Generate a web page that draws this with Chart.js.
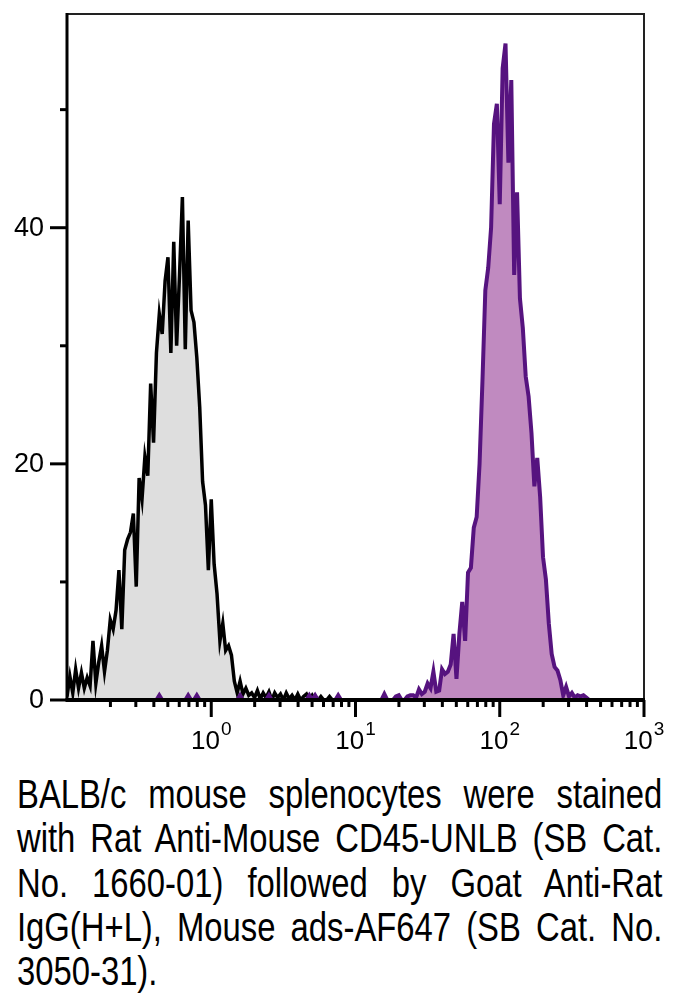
<!DOCTYPE html>
<html>
<head>
<meta charset="utf-8">
<style>
  html, body { margin: 0; padding: 0; background: #fff; }
  #wrap { position: relative; width: 675px; height: 993px; overflow: hidden; }
  #histChart { position: absolute; left: 0; top: 0; }
  #caption {
    position: absolute; left: 17px; top: 772px; width: 787px;
    transform: scaleX(0.82); transform-origin: 0 0;
    font-family: "Liberation Sans", Arial, sans-serif;
    font-size: 40px; line-height: 44.3px; color: #000;
  }
  #caption div { text-align: justify; text-align-last: justify; }
  #caption div.last { text-align-last: left; }
</style>
</head>
<body>
<div id="wrap">
  <canvas id="histChart" width="675" height="760"></canvas>
  <div id="caption">
    <div>BALB/c mouse splenocytes were stained</div>
    <div>with Rat Anti-Mouse CD45-UNLB (SB Cat.</div>
    <div>No. 1660-01) followed by Goat Anti-Rat</div>
    <div>IgG(H+L), Mouse ads-AF647 (SB Cat. No.</div>
    <div class="last">3050-31).</div>
  </div>
</div>
<script src="https://cdn.jsdelivr.net/npm/chart.js"></script>
<script>
// bin centres, in decades (log10 of intensity)
const logBins = [
  -1.00,-0.98,-0.96,-0.94,-0.92,-0.90,-0.88,-0.86,-0.84,-0.82,
  -0.80,-0.78,-0.76,-0.74,-0.72,-0.70,-0.68,-0.66,-0.64,-0.62,
  -0.60,-0.58,-0.56,-0.54,-0.52,-0.50,-0.48,-0.46,-0.44,-0.42,
  -0.40,-0.38,-0.36,-0.34,-0.32,-0.30,-0.28,-0.26,-0.24,-0.22,
  -0.20,-0.18,-0.16,-0.14,-0.12,-0.10,-0.08,-0.06,-0.04,-0.02,
  0.00,0.02,0.04,0.06,0.08,0.10,0.12,0.14,0.16,0.18,
  0.20,0.22,0.24,0.26,0.28,0.30,0.32,0.34,0.36,0.38,
  0.40,0.42,0.44,0.46,0.48,0.50,0.52,0.54,0.56,0.58,
  0.60,0.62,0.64,0.66,0.68,0.70,0.72,0.74,0.76,0.78,
  0.80,0.82,0.84,0.86,0.88,0.90,0.92,0.94,0.96,0.98,
  1.00,1.02,1.04,1.06,1.08,1.10,1.12,1.14,1.16,1.18,
  1.20,1.22,1.24,1.26,1.28,1.30,1.32,1.34,1.36,1.38,
  1.40,1.42,1.44,1.46,1.48,1.50,1.52,1.54,1.56,1.58,
  1.60,1.62,1.64,1.66,1.68,1.70,1.72,1.74,1.76,1.78,
  1.80,1.82,1.84,1.86,1.88,1.90,1.92,1.94,1.96,1.98,
  2.00,2.02,2.04,2.06,2.08,2.10,2.12,2.14,2.16,2.18,
  2.20,2.22,2.24,2.26,2.28,2.30,2.32,2.34,2.36,2.38,
  2.40,2.42,2.44,2.46,2.48,2.50,2.52,2.54,2.56,2.58,
  2.60,2.62,2.64,2.66,2.68,2.70
];

// secondary antibody only (grey)
const controlCounts = [
  0.3,2.0,0.6,2.6,1.0,2.3,1.0,1.9,1.2,5.0,
  1.4,3.2,4.6,2.4,4.2,6.8,6.0,7.6,11.0,6.0,
  12.7,13.6,14.2,15.8,9.6,18.8,17.0,20.6,19.0,26.8,
  21.8,29.4,32.7,31.0,35.5,37.5,29.4,38.8,30.0,36.0,
  42.6,29.7,40.6,33.0,32.0,29.0,24.8,18.5,16.5,11.0,
  17.0,11.5,9.0,5.0,6.5,4.2,4.6,3.8,1.6,0.6,
  1.6,0.5,1.0,0.4,0.6,0.2,0.8,0.1,0.6,0.2,
  0.7,0,0.6,0.2,0.5,0,0.6,0.1,0.4,0,
  0.5,0,0.3,0.5,0,0.4,0,0,0.3,0,
  0,0.3,0,0,0,0,0,0,0,0,
  0,0,0,0,0,0,0,0,0,0,
  0,0,0,0,0,0,0,0,0,0,
  0,0,0,0,0,0,0,0,0,0,
  0,0,0,0,0,0,0,0,0,0,
  0,0,0,0,0,0,0,0,0,0,
  0,0,0,0,0,0,0,0,0,0,
  0,0,0,0,0,0,0,0,0,0,
  0,0,0,0,0,0,0,0,0,0,
  0,0,0,0,0,0
];

// CD45 stained (purple)
const stainedCounts = [
  0,0,0,0,0,0,0,0,0,0,
  0,0,0,0,0,0,0,0,0,0,
  0,0,0,0,0,0,0,0,0,0,
  0,0,0.4,0,0,0,0,0,0,0,
  0,0,0.4,0,0,0.4,0,0,0,0,
  0,0,0,0,0,0,0,0,0,0,
  0.4,0,0,0,0,0,0,0,0,0,
  0.4,0,0,0,0,0,0,0,0,0,
  0,0,0,0,0.4,0,0.4,0,0,0,
  0,0,0,0,0.4,0,0,0,0,0,
  0,0,0,0,0,0,0,0,0,0,
  0.5,0,0,0,0.3,0.4,0,0,0.3,0.4,
  0.4,0.2,0.9,0.5,0.7,1.4,1.0,2.4,0.7,0.8,
  2.6,2.2,2.4,3.0,5.6,1.8,5.6,8.3,5.0,10.8,
  11.2,14.6,15.5,20.0,27.0,34.7,36.6,40.0,48.8,50.5,
  42.0,53.5,55.6,45.5,52.5,36.0,43.0,34.0,31.5,27.4,
  25.7,22.6,18.1,20.5,17.2,12.1,10.2,6.5,3.9,2.8,
  2.5,1.7,0.4,1.1,0.3,0.6,0.2,0.4,0.3,0.4,
  0.2,0,0,0,0,0
];

const yTickValues = [0, 10, 20, 30, 40, 50];
const yTickLabels = ['0', '', '20', '', '40', ''];
const xDecades = [-1, 0, 1, 2, 3];
const xDecadeLabels = ['', '0', '1', '2', '3'];

const axesPlugin = {
    id: 'flowAxes',
    afterDatasetsDraw(chart) {
        const { ctx, chartArea: a, scales } = chart;
        const x = scales.x, y = scales.y;
        ctx.save();

        // thin frame top / right
        ctx.strokeStyle = '#222';
        ctx.lineWidth = 2;
        ctx.beginPath();
        ctx.moveTo(a.left, a.top);
        ctx.lineTo(a.right, a.top);
        ctx.lineTo(a.right, a.bottom);
        ctx.stroke();

        // axes
        ctx.strokeStyle = '#000';
        ctx.lineWidth = 3;
        ctx.beginPath();
        ctx.moveTo(a.left, a.top - 1);
        ctx.lineTo(a.left, a.bottom);
        ctx.stroke();
        ctx.lineWidth = 4;
        ctx.beginPath();
        ctx.moveTo(a.left - 1.5, a.bottom);
        ctx.lineTo(a.right + 1, a.bottom);
        ctx.stroke();

        // y ticks + labels
        ctx.lineWidth = 3;
        ctx.fillStyle = '#000';
        ctx.font = '27px "Liberation Sans", Arial, sans-serif';
        ctx.textAlign = 'right';
        ctx.textBaseline = 'middle';
        yTickValues.forEach((v, i) => {
            const py = y.getPixelForValue(v);
            const len = yTickLabels[i] ? 17 : 7;
            ctx.beginPath();
            ctx.moveTo(a.left - len, py);
            ctx.lineTo(a.left, py);
            ctx.stroke();
            if (yTickLabels[i]) ctx.fillText(yTickLabels[i], a.left - 23, py + 1);
        });

        // x ticks: majors at each decade, minors at 2..9
        xDecades.forEach((k, i) => {
            if (k > -1) {
                const px = x.getPixelForValue(k);
                ctx.beginPath();
                ctx.moveTo(px, a.bottom);
                ctx.lineTo(px, a.bottom + 17);
                ctx.stroke();
            }
            if (k < 3) {
                for (let m = 2; m <= 9; m++) {
                    const px = x.getPixelForValue(k + Math.log10(m));
                    ctx.beginPath();
                    ctx.moveTo(px, a.bottom);
                    ctx.lineTo(px, a.bottom + 7);
                    ctx.stroke();
                }
            }
            const sup = xDecadeLabels[i];
            if (!sup) return;
            const px = x.getPixelForValue(k);
            ctx.textAlign = 'left';
            ctx.textBaseline = 'alphabetic';
            ctx.font = '26px "Liberation Sans", Arial, sans-serif';
            const w1 = ctx.measureText('10').width;
            ctx.font = '19px "Liberation Sans", Arial, sans-serif';
            const w2 = ctx.measureText(sup).width;
            const start = px - (w1 + w2 + 1) / 2;
            ctx.font = '26px "Liberation Sans", Arial, sans-serif';
            ctx.fillText('10', start, a.bottom + 49);
            ctx.font = '19px "Liberation Sans", Arial, sans-serif';
            ctx.fillText(sup, start + w1 + 1, a.bottom + 35);
        });
        ctx.restore();
    }
};

const ctx = document.getElementById('histChart').getContext('2d');

new Chart(ctx, {
    type: 'line',
    data: {
        labels: logBins,
        datasets: [
            {
                label: 'CD45-UNLB + AF647',
                data: stainedCounts,
                borderColor: '#56137f',
                backgroundColor: '#c08ac0',
                borderWidth: 4,
                fill: 'origin',
                pointRadius: 0,
                tension: 0,
                order: 0
            },
            {
                label: 'Secondary only',
                data: controlCounts,
                borderColor: '#000000',
                backgroundColor: '#dedede',
                borderWidth: 3.5,
                fill: 'origin',
                pointRadius: 0,
                tension: 0,
                order: 1
            }
        ]
    },
    options: {
        responsive: false,
        animation: false,
        events: [],
        layout: { padding: { left: 67, top: 14, right: 31, bottom: 60 } },
        plugins: {
            legend: { display: false },
            tooltip: { enabled: false }
        },
        scales: {
            x: { type: 'linear', min: -1, max: 3, display: false },
            y: { min: 0, max: 58.1, display: false }
        }
    },
    plugins: [axesPlugin]
});
</script>
</body>
</html>
